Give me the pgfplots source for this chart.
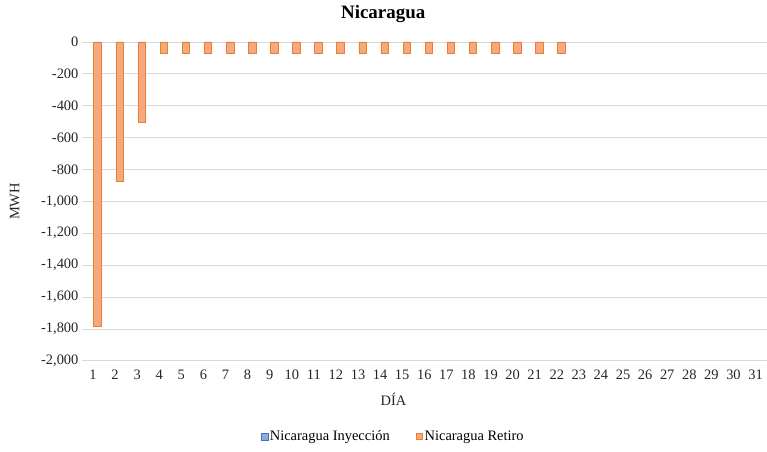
\documentclass[border=0pt]{standalone}
\usepackage{pgfplots}
\pgfplotsset{compat=1.18}
\usepackage{fontspec}
\setmainfont{Liberation Serif}
\definecolor{orfill}{RGB}{244,170,125}
\definecolor{ordraw}{RGB}{237,125,49}
\definecolor{blfill}{RGB}{143,170,220}
\definecolor{bldraw}{RGB}{68,114,196}
\definecolor{gridc}{RGB}{217,217,217}
\begin{document}
\begin{tikzpicture}
\begin{axis}[
  name=ax,
  scale only axis,
  width=685bp, height=319bp,
  xmin=0.5, xmax=31.5,
  ymin=-2000, ymax=0,
  axis line style={draw=none},
  tick style={draw=none},
  xtick={1,...,31},
  ytick={-2000,-1800,...,0},
  ymajorgrids, grid style={gridc, line width=0.8pt},
  /pgf/number format/assume math mode=true,
  /pgf/number format/1000 sep={,},
  yticklabel style={font=\fontsize{14.5}{16}\selectfont, text=black!85},
  xticklabel style={font=\fontsize{14.5}{16}\selectfont, text=black!85, yshift=-6pt},
  ylabel={MWH}, ylabel style={font=\fontsize{14.5}{16}\selectfont, text=black!85, at={(axis description cs:-0.098,0.5)}, anchor=center},
  xlabel={DÍA}, xlabel style={font=\fontsize{14.5}{16}\selectfont, text=black!85, at={(axis description cs:0.455,-0.122)}, anchor=center},
  title={\textbf{Nicaragua}},
  title style={font=\fontsize{19}{21}\selectfont, at={(axis description cs:0.44,1.07)}, anchor=center},
  legend style={at={(axis description cs:0.455,-0.238)}, anchor=center, draw=none,
    legend columns=2, font=\fontsize{14.5}{16}\selectfont,
    /tikz/every even column/.append style={column sep=24pt}},
  legend image code/.code={\draw[#1] (0cm,-0.11cm) rectangle (0.22cm,0.11cm);},
  clip=false,
]
\addlegendimage{fill=blfill, draw=bldraw}
\addlegendentry{Nicaragua Inyección}
\addplot[ybar, bar width=0.34, bar shift=0.21, fill=orfill, draw=ordraw, line width=0.8pt] coordinates {
(1,-1785) (2,-873) (3,-505) (4,-69) (5,-69) (6,-69) (7,-69) (8,-69) (9,-69) (10,-69)
(11,-69) (12,-69) (13,-69) (14,-69) (15,-69) (16,-69) (17,-69) (18,-69) (19,-69) (20,-69)
(21,-69) (22,-69)
};
\addlegendentry{Nicaragua Retiro}
\end{axis}
\path[use as bounding box] ([xshift=-82bp,yshift=-91bp]ax.south west) rectangle ([yshift=42bp]ax.north east);
\end{tikzpicture}
\end{document}
